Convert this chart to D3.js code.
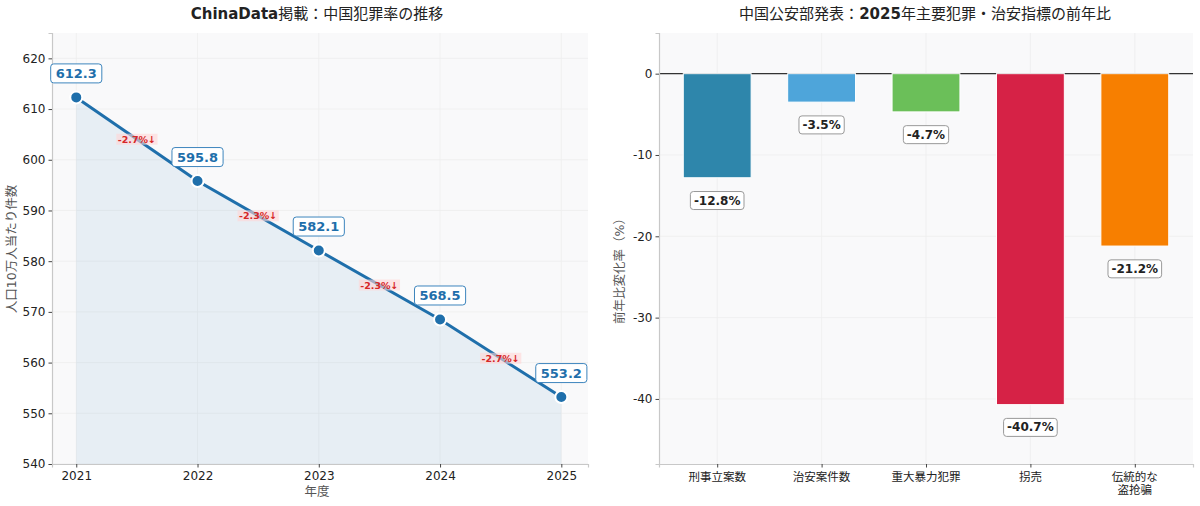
<!DOCTYPE html>
<html>
<head>
<meta charset="utf-8">
<script src="https://cdn.jsdelivr.net/npm/d3@7"></script>
<style>
  body { margin: 0; background: #fff; }
  svg { font-family: "DejaVu Sans", "Noto Sans CJK JP", sans-serif; }
</style>
</head>
<body>
<svg id="chart" width="1200" height="506"></svg>
<script>
'use strict';

// left panel: crime rate trend
var years = [2021, 2022, 2023, 2024, 2025];
var rates = [612.3, 595.8, 582.1, 568.5, 553.2];
var rateTicks = [540, 550, 560, 570, 580, 590, 600, 610, 620];

// right panel: year-on-year change
var categories = ['刑事立案数', '治安案件数', '重大暴力犯罪', '拐売', '伝統的な\n盗抢骗'];
var changes = [-12.8, -3.5, -4.7, -40.7, -21.2];
var barColors = ['#2E86AB', '#4EA5DA', '#6BBF59', '#D62246', '#F77F00'];
var changeTicks = [0, -10, -20, -30, -40];

var svg = d3.select('#chart');
var lineColor = '#1f6fab';

// matplotlib style uses a plain hyphen for minus
function fmt(v, dec) { return v.toFixed(dec); }

// helper: text with latin bold parts and cjk regular parts
function mixedTitle(g, x, y, parts) {
  var t = g.append('text').attr('x', x).attr('y', y)
    .attr('text-anchor', 'middle').attr('font-size', 15).attr('fill', '#222');
  parts.forEach(function(p){
    t.append('tspan').attr('font-weight', p[1] ? 'bold' : 'normal').text(p[0]);
  });
}

function boxedText(g, x, y, txt, opts) {
  var grp = g.append('g');
  var t = grp.append('text').attr('x', x).attr('y', y)
    .attr('text-anchor', 'middle').attr('dominant-baseline', 'central')
    .attr('font-size', opts.size).attr('font-weight', 'bold')
    .attr('fill', opts.color).text(txt);
  var bb = t.node().getBBox();
  grp.insert('rect', 'text')
    .attr('x', bb.x - opts.px).attr('y', bb.y - opts.py)
    .attr('width', bb.width + 2 * opts.px).attr('height', bb.height + 2 * opts.py)
    .attr('rx', opts.rx).attr('fill', opts.fill).attr('fill-opacity', opts.fillOpacity || 1)
    .attr('stroke', opts.stroke || 'none').attr('stroke-width', 1);
}

function styleAxes(list) {
  list.forEach(function(a){
    a.select('.domain').attr('stroke', '#c8c8c8').attr('stroke-width', 1.2);
    a.selectAll('.tick line').attr('stroke', '#444');
    a.selectAll('.tick text').attr('font-size', 12).attr('fill', '#222')
      .attr('font-family', '"DejaVu Sans", sans-serif');
  });
}

// ---------- left chart ----------
(function(){
  var m = {left: 52, right: 588, top: 33, bottom: 464};
  var x = d3.scaleLinear().domain([2020.8, 2025.22]).range([m.left, m.right]);
  var y = d3.scaleLinear().domain([540, 625]).range([m.bottom, m.top]);
  var g = svg.append('g');

  g.append('rect').attr('x', m.left).attr('y', m.top)
    .attr('width', m.right - m.left).attr('height', m.bottom - m.top).attr('fill', '#f9f9fa');

  // grid
  g.selectAll('.gy').data(rateTicks).enter().append('line')
    .attr('x1', m.left).attr('x2', m.right)
    .attr('y1', function(d){ return y(d); }).attr('y2', function(d){ return y(d); })
    .attr('stroke', '#ededed').attr('stroke-width', 0.8);
  g.selectAll('.gx').data(years).enter().append('line')
    .attr('y1', m.top).attr('y2', m.bottom)
    .attr('x1', function(d){ return x(d); }).attr('x2', function(d){ return x(d); })
    .attr('stroke', '#ededed').attr('stroke-width', 0.8);

  var pts = years.map(function(d, i){ return [d, rates[i]]; });

  g.append('path').datum(pts)
    .attr('d', d3.area().x(function(d){ return x(d[0]); }).y0(y(540)).y1(function(d){ return y(d[1]); }))
    .attr('fill', '#1f77b4').attr('fill-opacity', 0.08);

  g.append('path').datum(pts)
    .attr('d', d3.line().x(function(d){ return x(d[0]); }).y(function(d){ return y(d[1]); }))
    .attr('fill', 'none').attr('stroke', lineColor).attr('stroke-width', 3);

  g.selectAll('.pt').data(pts).enter().append('circle')
    .attr('cx', function(d){ return x(d[0]); }).attr('cy', function(d){ return y(d[1]); })
    .attr('r', 6).attr('fill', lineColor).attr('stroke', '#fff').attr('stroke-width', 2);

  // axes
  var ya = g.append('g').attr('transform', 'translate(' + m.left + ',0)')
    .call(d3.axisLeft(y).tickValues(rateTicks).tickFormat(function(d){ return fmt(d, 0); }).tickSize(3.5).tickPadding(3));
  var xa = g.append('g').attr('transform', 'translate(0,' + m.bottom + ')')
    .call(d3.axisBottom(x).tickValues(years).tickFormat(function(d){ return fmt(d, 0); }).tickSize(3.5).tickPadding(4));
  styleAxes([ya, xa]);

  // change labels
  for (var i = 1; i < pts.length; i++) {
    var pct = (rates[i] - rates[i - 1]) / rates[i - 1] * 100;
    var mx = (x(years[i]) + x(years[i - 1])) / 2;
    var my = (y(rates[i]) + y(rates[i - 1])) / 2;
    boxedText(g, mx, my, fmt(pct, 1) + '%↓',
      {size: 9.5, color: '#d62728', fill: '#ffd6d6', fillOpacity: 0.6, px: 1.5, py: 0, rx: 0});
  }

  // value labels
  pts.forEach(function(d){
    boxedText(g, x(d[0]), y(d[1]) - 24, fmt(d[1], 1),
      {size: 13, color: lineColor, fill: '#fff', stroke: '#3d85bd', px: 5, py: 2, rx: 3});
  });

  mixedTitle(g, 317, 19, [['ChinaData', true], ['掲載：中国犯罪率の推移', false]]);

  g.append('text').attr('x', 317).attr('y', 496).attr('text-anchor', 'middle')
    .attr('font-size', 12.5).attr('fill', '#555').text('年度');
  g.append('text').attr('transform', 'translate(16,249) rotate(-90)').attr('text-anchor', 'middle')
    .attr('font-size', 12.5).attr('fill', '#555').text('人口10万人当たり件数');
})();

// ---------- right chart ----------
(function(){
  var m = {left: 659, right: 1193, top: 33, bottom: 464};
  var idx = categories.map(function(d, i){ return i; });
  var x = d3.scaleLinear().domain([-0.5575, 4.5575]).range([m.left, m.right]);
  var y = d3.scaleLinear().domain([-48, 5]).range([m.bottom, m.top]);
  var bw = 0.65;
  var g = svg.append('g');

  g.append('rect').attr('x', m.left).attr('y', m.top)
    .attr('width', m.right - m.left).attr('height', m.bottom - m.top).attr('fill', '#f9f9fa');

  g.selectAll('.gy').data(changeTicks).enter().append('line')
    .attr('x1', m.left).attr('x2', m.right)
    .attr('y1', function(d){ return y(d); }).attr('y2', function(d){ return y(d); })
    .attr('stroke', '#ededed').attr('stroke-width', 0.8);
  g.selectAll('.gx').data(idx).enter().append('line')
    .attr('y1', m.top).attr('y2', m.bottom)
    .attr('x1', function(d){ return x(d); }).attr('x2', function(d){ return x(d); })
    .attr('stroke', '#ededed').attr('stroke-width', 0.8);

  // zero line
  g.append('line').attr('x1', m.left).attr('x2', m.right)
    .attr('y1', y(0)).attr('y2', y(0)).attr('stroke', '#333').attr('stroke-width', 1.1);

  g.selectAll('.bar').data(idx).enter().append('rect')
    .attr('x', function(d){ return x(d - bw / 2); })
    .attr('width', function(){ return x(bw) - x(0); })
    .attr('y', y(0))
    .attr('height', function(d){ return y(changes[d]) - y(0); })
    .attr('fill', function(d){ return barColors[d]; })
    .attr('stroke', '#fff').attr('stroke-width', 1);

  var ya = g.append('g').attr('transform', 'translate(' + m.left + ',0)')
    .call(d3.axisLeft(y).tickValues(changeTicks).tickFormat(function(d){ return fmt(d, 0); }).tickSize(3.5).tickPadding(3));
  var xa = g.append('g').attr('transform', 'translate(0,' + m.bottom + ')')
    .call(d3.axisBottom(x).tickValues(idx).tickFormat('').tickSize(3.5));
  styleAxes([ya, xa]);

  // category labels (multi-line)
  idx.forEach(function(i){
    var lines = categories[i].split('\n');
    var t = g.append('text').attr('x', x(i)).attr('y', m.bottom + 17)
      .attr('text-anchor', 'middle').attr('font-size', 11.5).attr('fill', '#222');
    lines.forEach(function(l, k){
      t.append('tspan').attr('x', x(i)).attr('dy', k ? 13 : 0).text(l);
    });
  });

  // value labels
  idx.forEach(function(i){
    boxedText(g, x(i), y(changes[i] - 2.8), fmt(changes[i], 1) + '%',
      {size: 12, color: '#222', fill: '#fff', stroke: '#999', px: 3.5, py: 2, rx: 3});
  });

  mixedTitle(g, 925, 19, [['中国公安部発表：', false], ['2025', true], ['年主要犯罪・治安指標の前年比', false]]);

  g.append('text').attr('transform', 'translate(624,268) rotate(-90)').attr('text-anchor', 'middle')
    .attr('font-size', 12.5).attr('fill', '#555').text('前年比変化率（%）');
})();
</script>
</body>
</html>
